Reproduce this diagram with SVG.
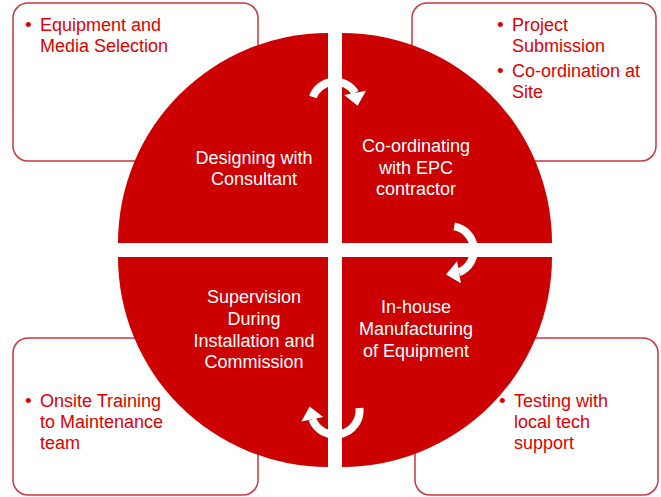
<svg xmlns="http://www.w3.org/2000/svg" width="661" height="497" viewBox="0 0 661 497">
<style>
.box{fill:#fff;stroke:#C8373D;stroke-width:1.5}
.quad{fill:#CC0000}
.bt{font-family:"Liberation Sans",Arial,sans-serif;font-size:18px;fill:#E00000}
.bul{font-family:"Liberation Sans",Arial,sans-serif;font-size:19px;fill:#E00000}
.qt{font-family:"Liberation Sans",Arial,sans-serif;font-size:18px;fill:#fff;text-anchor:middle}
.arc{fill:none;stroke:#fff;stroke-width:8}
.head{fill:#fff}
</style>
<rect width="661" height="497" fill="#fff"/>
<g id="box-tl"><rect class="box" x="13" y="3" width="245" height="158" rx="15"/>
<text class="bul" x="25" y="31">•</text><text class="bt"><tspan x="40" y="31">Equipment and</tspan><tspan x="40" y="52">Media Selection</tspan></text></g>
<g id="box-tr"><rect class="box" x="412" y="3" width="244" height="158" rx="15"/>
<text class="bul" x="497" y="31">•</text><text class="bul" x="497" y="77">•</text>
<text class="bt"><tspan x="512" y="31">Project</tspan><tspan x="512" y="52">Submission</tspan><tspan x="512" y="77">Co-ordination at</tspan><tspan x="512" y="98">Site</tspan></text></g>
<g id="box-bl"><rect class="box" x="13" y="338" width="245" height="157" rx="15"/>
<text class="bul" x="25" y="407">•</text>
<text class="bt"><tspan x="40" y="407">Onsite Training</tspan><tspan x="40" y="428">to Maintenance</tspan><tspan x="40" y="449">team</tspan></text></g>
<g id="box-br"><rect class="box" x="415" y="338" width="243" height="157" rx="15"/>
<text class="bul" x="499" y="407">•</text>
<text class="bt"><tspan x="514" y="407">Testing with</tspan><tspan x="514" y="428">local tech</tspan><tspan x="514" y="449">support</tspan></text></g>
<g id="q-tl"><path class="quad" d="M328,243 L118,243 A210,210 0 0 1 328,33 Z"/>
<text class="qt"><tspan x="254" y="164">Designing with</tspan><tspan x="254" y="185">Consultant</tspan></text></g>
<g id="q-tr"><path class="quad" d="M342,243 L342,33 A210,210 0 0 1 552,243 Z"/>
<text class="qt"><tspan x="416" y="152">Co-ordinating</tspan><tspan x="416" y="174">with EPC</tspan><tspan x="416" y="195">contractor</tspan></text></g>
<g id="q-br"><path class="quad" d="M342,257 L552,257 A210,210 0 0 1 342,467 Z"/>
<text class="qt"><tspan x="416" y="313">In-house</tspan><tspan x="416" y="335">Manufacturing</tspan><tspan x="416" y="357">of Equipment</tspan></text></g>
<g id="q-bl"><path class="quad" d="M328,257 L328,467 A210,210 0 0 1 118,257 Z"/>
<text class="qt"><tspan x="254" y="303">Supervision</tspan><tspan x="254" y="325">During</tspan><tspan x="254" y="347">Installation and</tspan><tspan x="254" y="368">Commission</tspan></text></g>
<g id="connectors">
<path class="arc" d="M312.9,97 A23.5,23.5 0 0 1 355.1,92.9"/>
<polygon class="head" points="366,90.8 357.6,105.8 344.2,95"/>
<path class="arc" d="M454.2,226.4 A24,24 0 0 1 459,272.25"/>
<polygon class="head" points="460.9,283.2 446,274.5 457.1,261.3"/>
<path class="arc" d="M359.5,408 A24.5,24.5 0 0 1 312.3,419.2"/>
<polygon class="head" points="323.2,416.9 309.6,406.4 301.4,421.5"/>
</g>
</svg>
